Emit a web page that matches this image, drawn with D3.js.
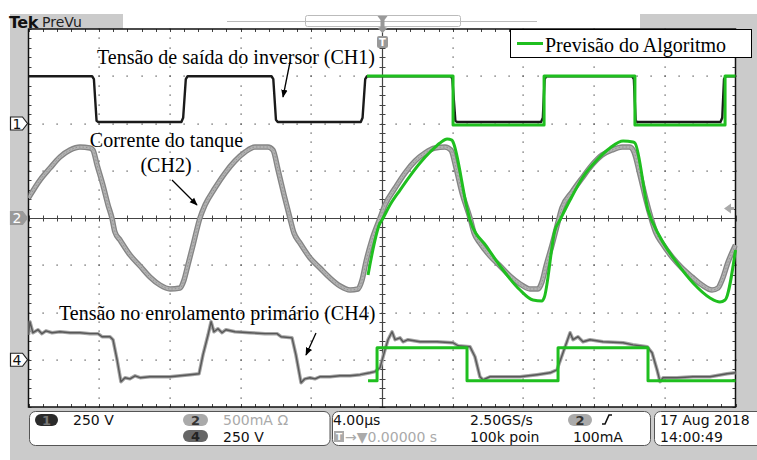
<!DOCTYPE html>
<html lang="pt">
<head>
    <meta charset="UTF-8">
    <title>Tek PreVu - CH1 / CH2 / CH4</title>
    <script src="https://d3js.org/d3.v7.min.js"></script>
    <style>
        html, body {
            margin: 0;
            padding: 0;
            background: #fff;
        }
        svg { display: block; }
        .serif { font-family: "Liberation Serif", "Times New Roman", serif; }
        .ui { font-family: "DejaVu Sans", sans-serif; }
    </style>
</head>
<body>
<div id="vis"></div>
<script>

    // horizontal: time in µs, 4 µs/div, trigger at 0
    var timeTicks = [-20, -16, -12, -8, -4, 0, 4, 8, 12, 16, 20];

    // CH1 - tensão de saída do inversor [µs, V]
    var ch1Scope = [[-20,250],[-16.4,250],[-16.3,235],[-16.15,15],[-16.05,8],[-11.35,8],[-11.25,30],[-11.1,235],[-11.0,250],
        [-6.25,250],[-6.15,235],[-6.0,20],[-5.9,8],[-1.2,8],[-1.1,30],[-0.95,235],[-0.85,250],[3.9,250],[3.98,235],[4.15,15],[4.25,8],
        [9.0,8],[9.1,30],[9.2,235],[9.3,250],[14.15,250],[14.25,235],[14.35,15],[14.45,8],[19.15,8],[19.25,30],[19.35,235],[19.45,250],[20,250]];

    // CH2 - corrente do tanque [µs, mA]
    var ch2Scope = [[-20,212],[-19.35,402],[-18.78,529],[-18.22,645],[-17.65,719],[-17.09,751],[-16.52,741],[-16.35,719],[-16.12,561],
        [-15.79,349],[-15.5,138],[-15.28,0],[-15.11,-148],[-14.82,-233],[-14.26,-391],[-13.69,-508],[-13.13,-624],[-12.56,-709],
        [-11.99,-751],[-11.43,-741],[-11.2,-656],[-10.98,-497],[-10.69,-286],[-10.3,0],[-10.01,138],[-9.45,317],[-8.88,476],
        [-8.32,603],[-7.75,698],[-7.19,751],[-6.45,751],[-6.17,719],[-5.88,508],[-5.54,243],[-5.21,0],[-4.98,-159],[-4.64,-265],
        [-4.07,-423],[-3.51,-529],[-2.94,-635],[-2.38,-719],[-1.81,-762],[-1.36,-751],[-1.13,-656],[-0.91,-466],[-0.57,-233],
        [-0.11,0],[0.17,138],[0.74,317],[1.3,476],[1.87,603],[2.43,688],[3.0,741],[3.56,751],[3.9,719],[4.19,529],[4.53,265],
        [4.98,0],[5.21,-159],[5.54,-265],[6.11,-402],[6.68,-508],[7.24,-614],[7.81,-698],[8.37,-751],[8.83,-751],[9.05,-677],
        [9.28,-508],[9.62,-286],[9.96,-42],[10.18,106],[10.75,275],[11.32,423],[11.88,561],[12.45,667],[13.01,719],[13.58,751],
        [14.03,751],[14.26,698],[14.6,455],[14.94,190],[15.22,0],[15.5,-159],[15.84,-265],[16.41,-413],[16.97,-529],[17.54,-624],
        [18.1,-709],[18.67,-762],[19.01,-741],[19.24,-656],[19.58,-466],[20,-286]];

    // CH4 - tensão no enrolamento primário [µs, V]
    var ch4Scope = [[-20,132],[-19.92,201],[-19.75,143],[-19.46,159],[-19.24,138],[-19.01,153],[-18.67,143],[-18.22,148],[-17.65,143],
        [-17.09,143],[-16.52,138],[-16.07,138],[-15.84,122],[-15.39,122],[-15.22,106],[-14.99,0],[-14.77,-116],[-14.54,-95],
        [-14.26,-101],[-13.97,-85],[-13.69,-95],[-13.13,-90],[-12.56,-90],[-11.99,-90],[-11.43,-85],[-10.86,-79],[-10.35,-74],
        [-10.13,26],[-9.84,132],[-9.67,201],[-9.51,148],[-9.28,164],[-9.05,143],[-8.83,159],[-8.32,148],[-7.47,143],[-6.62,138],
        [-5.94,138],[-5.71,122],[-5.09,116],[-4.87,26],[-4.58,-122],[-4.36,-101],[-4.07,-95],[-3.79,-101],[-3.51,-90],[-2.94,-90],
        [-2.38,-85],[-1.81,-85],[-1.24,-79],[-0.68,-69],[-0.4,-63],[-0.11,-42],[0.17,53],[0.34,106],[0.57,148],[0.74,106],
        [1.02,116],[1.19,95],[1.47,106],[2.15,95],[3.11,95],[4.02,90],[4.3,74],[4.98,69],[5.26,16],[5.54,-90],[5.71,-106],
        [6.11,-90],[6.85,-90],[7.81,-90],[8.77,-79],[9.51,-69],[9.9,-53],[10.24,37],[10.64,143],[10.81,106],[11.09,122],
        [11.37,95],[11.77,106],[12.5,95],[13.64,90],[14.2,79],[15.0,69],[15.28,37],[15.56,-53],[15.73,-116],[15.9,-95],
        [16.69,-95],[17.6,-90],[18.56,-90],[19.52,-74],[20,-69]];

    // Previsão do algoritmo (green overlays)
    var ch1Model = [[-0.85,251],[4.02,251],[4.02,-8],[9.17,-8],[9.17,251],[14.31,251],[14.31,-8],[19.41,-8],[19.41,251],[20,251]];
    var ch2Model = [[-0.79,-603],[-0.11,-53],[0,-21],[0.45,138],[1.02,296],[1.58,444],[2.15,582],[2.72,698],[3.28,794],[3.68,836],
        [3.96,825],[4.02,804],[4.81,106],[4.98,-21],[5.94,-307],[6.85,-550],[7.81,-762],[8.54,-868],[9.05,-878],[9.17,-846],
        [9.79,-127],[10.07,-21],[10.64,190],[11.37,434],[12.16,614],[12.9,741],[13.64,815],[14.2,804],[14.31,794],[15.05,85],
        [15.73,-201],[16.69,-476],[17.6,-688],[18.56,-846],[19.12,-889],[19.41,-868],[20,-339]];
    var ch4Model = [[-0.79,-111],[-0.28,-111],[-0.28,63],[4.81,63],[4.81,-111],[9.96,-111],[9.96,63],[15.05,63],[15.05,-111],[20,-111]];

    // channel settings: ground position (div) and scale per div
    var ch1Set = {ground: 2, perDiv: 250};
    var ch2Set = {ground: 0, perDiv: 500};
    var ch4Set = {ground: -3, perDiv: 250};
    var trigLevel = 100; // mA on CH2

    /*
     *  LAYOUT
     */
    var W = 757, H = 460;
    var plot = {left: 28.5, right: 735.5, top: 29, bottom: 407};

    var svg = d3.select('#vis').append('svg')
        .attr('width', W)
        .attr('height', H);

    var x = d3.scaleLinear().domain([-20, 20]).range([plot.left, plot.right]);
    var yDiv = d3.scaleLinear().domain([-4, 4]).range([plot.bottom, plot.top]);

    function chanScale(s) {
        return d3.scaleLinear()
            .domain([(-4 - s.ground) * s.perDiv, (4 - s.ground) * s.perDiv])
            .range([plot.bottom, plot.top]);
    }
    var y1 = chanScale(ch1Set), y2 = chanScale(ch2Set), y4 = chanScale(ch4Set);

    // scope frame
    svg.append('rect').attr('x', 10).attr('y', 14).attr('width', W - 10).attr('height', H - 14).attr('fill', '#cbcbcb');
    svg.append('rect').attr('x', 123).attr('y', 14).attr('width', 517).attr('height', 15).attr('fill', '#fff');
    svg.append('line').attr('x1', 227).attr('x2', 537).attr('y1', 21.5).attr('y2', 21.5).attr('stroke', '#bbb');
    svg.append('rect').attr('x', 305.5).attr('y', 15.5).attr('width', 155).attr('height', 11)
        .attr('fill', 'none').attr('stroke', '#bbb').attr('rx', 2);

    svg.append('text').attr('class', 'ui').attr('x', 9).attr('y', 27.5)
        .attr('font-size', 16).attr('font-weight', 'bold').attr('letter-spacing', -0.5).attr('fill', '#111').text('Tek');
    svg.append('text').attr('class', 'ui').attr('x', 42).attr('y', 27)
        .attr('font-size', 14).attr('fill', '#222').text('PreVu');

    svg.append('rect')
        .attr('x', plot.left).attr('y', plot.top)
        .attr('width', plot.right - plot.left).attr('height', plot.bottom - plot.top)
        .attr('fill', '#fff');

    /*
     *  GRATICULE
     */
    var grid = svg.append('g');
    var minorX = d3.range(-20, 20.001, 0.8);
    var minorY = d3.range(-4, 4.001, 0.2);

    // dotted major lines
    timeTicks.filter(function(t) { return t !== 0 && Math.abs(t) !== 20; }).forEach(function(t) {
        grid.selectAll(null).data(minorY).enter().append('rect')
            .attr('x', Math.round(x(t)) - 0.5).attr('y', function(d) { return Math.round(yDiv(d)) - 0.5; })
            .attr('width', 1.2).attr('height', 1.2).attr('fill', '#444');
    });
    [-3, -2, -1, 1, 2, 3].forEach(function(v) {
        grid.selectAll(null).data(minorX).enter().append('rect')
            .attr('x', function(d) { return Math.round(x(d)) - 0.5; }).attr('y', Math.round(yDiv(v)) - 0.5)
            .attr('width', 1.2).attr('height', 1.2).attr('fill', '#444');
    });

    // center cross with ticks
    grid.append('line').attr('x1', plot.left).attr('x2', plot.right)
        .attr('y1', Math.round(yDiv(0)) + 0.5).attr('y2', Math.round(yDiv(0)) + 0.5)
        .attr('stroke', '#444').attr('stroke-width', 1.2);
    grid.append('line').attr('y1', plot.top).attr('y2', plot.bottom)
        .attr('x1', Math.round(x(0)) + 0.5).attr('x2', Math.round(x(0)) + 0.5)
        .attr('stroke', '#444').attr('stroke-width', 1.2);
    grid.selectAll(null).data(minorX).enter().append('line')
        .attr('x1', function(d) { return Math.round(x(d)) + 0.5; }).attr('x2', function(d) { return Math.round(x(d)) + 0.5; })
        .attr('y1', yDiv(0) - 2.5).attr('y2', yDiv(0) + 3.5).attr('stroke', '#444');
    grid.selectAll(null).data(minorY).enter().append('line')
        .attr('y1', function(d) { return Math.round(yDiv(d)) + 0.5; }).attr('y2', function(d) { return Math.round(yDiv(d)) + 0.5; })
        .attr('x1', x(0) - 2.5).attr('x2', x(0) + 3.5).attr('stroke', '#444');

    // border ticks
    grid.selectAll(null).data(minorX).enter().append('line')
        .attr('x1', function(d) { return Math.round(x(d)) + 0.5; }).attr('x2', function(d) { return Math.round(x(d)) + 0.5; })
        .attr('y1', plot.top).attr('y2', plot.top + 3).attr('stroke', '#444');
    grid.selectAll(null).data(minorX).enter().append('line')
        .attr('x1', function(d) { return Math.round(x(d)) + 0.5; }).attr('x2', function(d) { return Math.round(x(d)) + 0.5; })
        .attr('y1', plot.bottom - 3).attr('y2', plot.bottom).attr('stroke', '#444');
    grid.selectAll(null).data(minorY).enter().append('line')
        .attr('y1', function(d) { return Math.round(yDiv(d)) + 0.5; }).attr('y2', function(d) { return Math.round(yDiv(d)) + 0.5; })
        .attr('x1', plot.left).attr('x2', plot.left + 3).attr('stroke', '#444');
    grid.selectAll(null).data(minorY).enter().append('line')
        .attr('y1', function(d) { return Math.round(yDiv(d)) + 0.5; }).attr('y2', function(d) { return Math.round(yDiv(d)) + 0.5; })
        .attr('x1', plot.right - 3).attr('x2', plot.right).attr('stroke', '#444');

    grid.append('rect')
        .attr('x', plot.left).attr('y', plot.top)
        .attr('width', plot.right - plot.left).attr('height', plot.bottom - plot.top)
        .attr('fill', 'none').attr('stroke', '#111').attr('stroke-width', 1.5);

    /*
     *  TRACES
     */
    svg.append('clipPath').attr('id', 'clip').append('rect')
        .attr('x', plot.left).attr('y', plot.top)
        .attr('width', plot.right - plot.left + 2).attr('height', plot.bottom - plot.top);
    var traces = svg.append('g').attr('clip-path', 'url(#clip)');

    function lineFor(yScale, curve) {
        return d3.line()
            .x(function(d) { return x(d[0]); })
            .y(function(d) { return yScale(d[1]); })
            .curve(curve || d3.curveLinear);
    }

    traces.append('path').datum(ch2Scope).attr('d', lineFor(y2, d3.curveMonotoneX))
        .attr('fill', 'none').attr('stroke', '#858585').attr('stroke-width', 5.5).attr('stroke-linejoin', 'round');
    traces.append('path').datum(ch2Scope).attr('d', lineFor(y2, d3.curveMonotoneX))
        .attr('fill', 'none').attr('stroke', '#b2b2b2').attr('stroke-width', 2.8).attr('stroke-linejoin', 'round');
    traces.append('path').datum(ch2Scope).attr('d', lineFor(y2, d3.curveMonotoneX))
        .attr('fill', 'none').attr('stroke', '#8a8a8a').attr('stroke-width', 0.8).attr('stroke-dasharray', '1.5,2');

    traces.append('path').datum(ch4Scope).attr('d', lineFor(y4))
        .attr('fill', 'none').attr('stroke', '#a5a5a5').attr('stroke-width', 3.5).attr('stroke-linejoin', 'round');
    traces.append('path').datum(ch4Scope).attr('d', lineFor(y4))
        .attr('fill', 'none').attr('stroke', '#585858').attr('stroke-width', 1.4).attr('stroke-linejoin', 'round');

    traces.append('path').datum(ch1Scope).attr('d', lineFor(y1))
        .attr('fill', 'none').attr('stroke', '#1a1a1a').attr('stroke-width', 2.4).attr('stroke-linejoin', 'round');

    var green = '#1fbf1f';
    [[ch1Model, y1, null], [ch2Model, y2, d3.curveMonotoneX], [ch4Model, y4, null]].forEach(function(s) {
        traces.append('path').datum(s[0]).attr('d', lineFor(s[1], s[2]))
            .attr('fill', 'none').attr('stroke', green).attr('stroke-width', 3).attr('stroke-linejoin', 'round');
    });

    /*
     *  MARKERS (channel grounds, trigger)
     */
    function chanTag(cy, label, fill, textFill, stroke) {
        var g = svg.append('g');
        g.append('path')
            .attr('d', 'M10.5,' + (cy - 6.5) + 'H22.5L27.5,' + cy + 'L22.5,' + (cy + 6.5) + 'H10.5Z')
            .attr('fill', fill).attr('stroke', stroke).attr('stroke-width', 1.2);
        g.append('text').attr('class', 'ui').attr('x', 17).attr('y', cy + 5)
            .attr('text-anchor', 'middle').attr('font-size', 14).attr('fill', textFill).text(label);
    }
    chanTag(y1(0), '1', '#fff', '#111', '#222');
    chanTag(y2(0), '2', '#9a9a9a', '#fff', '#9a9a9a');
    chanTag(y4(0), '4', '#fff', '#111', '#222');

    // trigger position marker
    var tx = Math.round(x(0)) + 0.5;
    svg.append('path').attr('d', 'M' + (tx - 5) + ',16H' + (tx + 5) + 'L' + (tx + 2) + ',20V27L' + (tx + 5) + ',28L' + tx + ',33L' + (tx - 5) + ',28L' + (tx - 2) + ',27V20Z')
        .attr('fill', '#999');
    svg.append('rect').attr('x', tx - 5.5).attr('y', 36).attr('width', 11).attr('height', 12).attr('rx', 2).attr('fill', '#999');
    svg.append('text').attr('class', 'ui').attr('x', tx).attr('y', 46).attr('text-anchor', 'middle')
        .attr('font-size', 10).attr('font-weight', 'bold').attr('fill', '#fff').text('T');
    // trigger level arrow
    var ty = y2(trigLevel);
    svg.append('path').attr('d', 'M724,' + ty + 'L731,' + (ty - 5) + 'V' + (ty - 1.5) + 'H734V' + (ty + 1.5) + 'H731V' + (ty + 5) + 'Z')
        .attr('fill', '#aaa');

    /*
     *  ANNOTATIONS
     */
    var defs = svg.append('defs');
    defs.append('marker').attr('id', 'arrow').attr('viewBox', '0 0 10 10')
        .attr('refX', 9).attr('refY', 5).attr('markerWidth', 8).attr('markerHeight', 8)
        .attr('markerUnits', 'userSpaceOnUse').attr('orient', 'auto')
        .append('path').attr('d', 'M0,1L10,5L0,9Z').attr('fill', '#000');

    function note(txt, tx, ty, anchor) {
        svg.append('text').attr('class', 'serif').attr('x', tx).attr('y', ty)
            .attr('text-anchor', anchor || 'start').attr('font-size', 20).attr('fill', '#000').text(txt);
    }
    function arrow(xa, ya, xb, yb) {
        svg.append('line').attr('x1', xa).attr('y1', ya).attr('x2', xb).attr('y2', yb)
            .attr('stroke', '#000').attr('stroke-width', 1.3).attr('marker-end', 'url(#arrow)');
    }
    note('Tensão de saída do inversor (CH1)', 97, 64);
    arrow(290, 62, 283, 97);
    note('Corrente do tanque', 166.5, 147, 'middle');
    note('(CH2)', 166, 172, 'middle');
    arrow(172, 180, 197, 205);
    note('Tensão no enrolamento primário (CH4)', 59, 320);
    arrow(316, 333, 306, 355);

    // legend
    svg.append('rect').attr('x', 510.5).attr('y', 29.5).attr('width', 241).attr('height', 28)
        .attr('fill', '#fff').attr('stroke', '#000').attr('stroke-width', 1);
    svg.append('line').attr('x1', 517).attr('x2', 543).attr('y1', 43.5).attr('y2', 43.5)
        .attr('stroke', green).attr('stroke-width', 3);
    note('Previsão do Algoritmo', 545, 52);

    /*
     *  STATUS BAR
     */
    var bar = svg.append('g').attr('class', 'ui').attr('font-size', 14);
    [[29.5, 300.5], [332.5, 318], [654.5, 110]].forEach(function(b) {
        bar.append('rect').attr('x', b[0]).attr('y', 411.5).attr('width', b[1]).attr('height', 34)
            .attr('rx', 6).attr('fill', '#fff').attr('stroke', '#555');
    });
    function badge(bx, by, w, label, fill, textFill) {
        bar.append('rect').attr('x', bx).attr('y', by).attr('width', w).attr('height', 12).attr('rx', 6).attr('fill', fill);
        bar.append('text').attr('x', bx + w / 2).attr('y', by + 11).attr('text-anchor', 'middle')
            .attr('font-size', 13).attr('font-weight', 'bold').attr('fill', textFill).text(label);
    }
    badge(35, 414, 23, '1', '#2b2b2b', '#777');
    badge(183, 414, 25, '2', '#aaa', '#333');
    badge(183, 430, 25, '4', '#666', '#222');
    badge(568, 414, 24, '2', '#aaa', '#333');

    function txt(s, tx, ty, fill) {
        bar.append('text').attr('x', tx).attr('y', ty).attr('fill', fill || '#111').text(s);
    }
    txt('250 V', 73, 425);
    txt('500mA Ω', 223, 425, '#aaa');
    txt('250 V', 223, 442);
    txt('4.00µs', 333, 425);
    txt('2.50GS/s', 470, 425);
    txt('100k poin', 470, 442);
    txt('100mA', 573, 442);
    txt('17 Aug 2018', 660, 425);
    txt('14:00:49', 660, 442);

    // trigger position readout
    bar.append('rect').attr('x', 334).attr('y', 431).attr('width', 10).attr('height', 11).attr('fill', '#aaa');
    bar.append('text').attr('x', 339).attr('y', 440).attr('text-anchor', 'middle').attr('font-size', 9)
        .attr('font-weight', 'bold').attr('fill', '#fff').text('T');
    txt('→▼0.00000 s', 345, 442, '#aaa');
    // rising edge symbol
    bar.append('path').attr('d', 'M602,424H605L609,415H612').attr('fill', 'none').attr('stroke', '#111').attr('stroke-width', 1.6);

</script>
</body>
</html>
